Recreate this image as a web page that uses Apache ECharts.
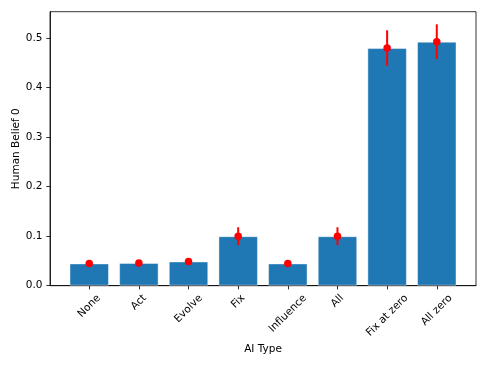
<!DOCTYPE html>
<html>
<head>
<meta charset="utf-8">
<script src="https://cdn.jsdelivr.net/npm/echarts@6/dist/echarts.min.js"></script>
<style>
  html, body { margin: 0; padding: 0; background: #fff; }
  #chart { width: 488px; height: 366px; }
</style>
</head>
<body>
<div id="chart"></div>
<script>
const categories = ["None", "Act", "Evolve", "Fix", "Influence", "All", "Fix at zero", "All zero"];
const meanValues = [0.045, 0.046, 0.049, 0.100, 0.045, 0.100, 0.480, 0.493];
const errLow = [0.044, 0.045, 0.047, 0.082, 0.044, 0.082, 0.444, 0.458];
const errHigh = [0.046, 0.047, 0.051, 0.118, 0.046, 0.118, 0.516, 0.528];
const yTicks = [0, 0.1, 0.2, 0.3, 0.4, 0.5];

const FONT = "DejaVu Sans";
const FS = 10.5;

// matplotlib-like rotated labels: centred under the tick instead of ending at it
const ctx = document.createElement("canvas").getContext("2d");
ctx.font = FS + "px '" + FONT + "'";
const rich = {};
categories.forEach((c, i) => {
  const w = ctx.measureText(c).width;
  const p = (w + FS) / 2;
  rich["l" + i] = { fontFamily: FONT, fontSize: FS, color: "#000", padding: [p, p, 0, 0] };
});

const chart = echarts.init(document.getElementById("chart"));
chart.setOption({
  animation: false,
  grid: {
    left: 50, right: 12, top: 11.7, bottom: 80.3,
    containLabel: false,
    outerBoundsMode: "none",
    show: true, borderColor: "#000", borderWidth: 0.8
  },
  xAxis: {
    type: "value",
    min: -0.79, max: 7.79,
    name: "AI Type",
    nameLocation: "middle",
    nameGap: 58,
    nameMoveOverlap: false,
    nameTextStyle: { fontFamily: FONT, fontSize: FS, color: "#000" },
    splitLine: { show: false },
    axisLine: { show: true, onZero: false, lineStyle: { color: "#000", width: 0.8 } },
    axisTick: { show: true, length: 3.7, customValues: [0, 1, 2, 3, 4, 5, 6, 7], lineStyle: { color: "#000", width: 0.8 } },
    axisLabel: {
      customValues: [0, 1, 2, 3, 4, 5, 6, 7],
      rotate: 45,
      align: "center",
      verticalAlign: "middle",
      margin: 7,
      formatter: v => "{l" + v + "|" + categories[v] + "}",
      rich: rich
    }
  },
  yAxis: {
    type: "value",
    min: 0, max: 0.5535,
    name: "Human Belief 0",
    nameLocation: "middle",
    nameGap: 28,
    nameMoveOverlap: false,
    nameTextStyle: { fontFamily: FONT, fontSize: FS, color: "#000" },
    splitLine: { show: false },
    axisLine: { show: true, onZero: false, lineStyle: { color: "#000", width: 0.8 } },
    axisTick: { show: true, length: 3.7, customValues: yTicks, lineStyle: { color: "#000", width: 0.8 } },
    axisLabel: {
      customValues: yTicks,
      margin: 7.5,
      fontFamily: FONT, fontSize: FS, color: "#000",
      formatter: v => v.toFixed(1)
    }
  },
  series: [
    {
      type: "bar",
      data: meanValues.map((v, i) => [i, v]),
      barWidth: 39.5,
      itemStyle: { color: "#1f77b4", borderColor: "rgba(255,255,255,0.45)", borderWidth: 1 }
    },
    {
      type: "custom",
      data: categories.map((c, i) => [i, errLow[i], errHigh[i]]),
      renderItem: (params, api) => {
        const lo = api.coord([api.value(0), api.value(1)]);
        const hi = api.coord([api.value(0), api.value(2)]);
        return {
          type: "line",
          shape: { x1: lo[0], y1: lo[1], x2: hi[0], y2: hi[1] },
          style: { stroke: "#ff0000", lineWidth: 2 }
        };
      },
      z: 3
    },
    {
      type: "scatter",
      data: meanValues.map((v, i) => [i, v]),
      symbol: "circle",
      symbolSize: 7.5,
      itemStyle: { color: "#ff0000", opacity: 1 },
      z: 4
    }
  ]
});
</script>
</body>
</html>
